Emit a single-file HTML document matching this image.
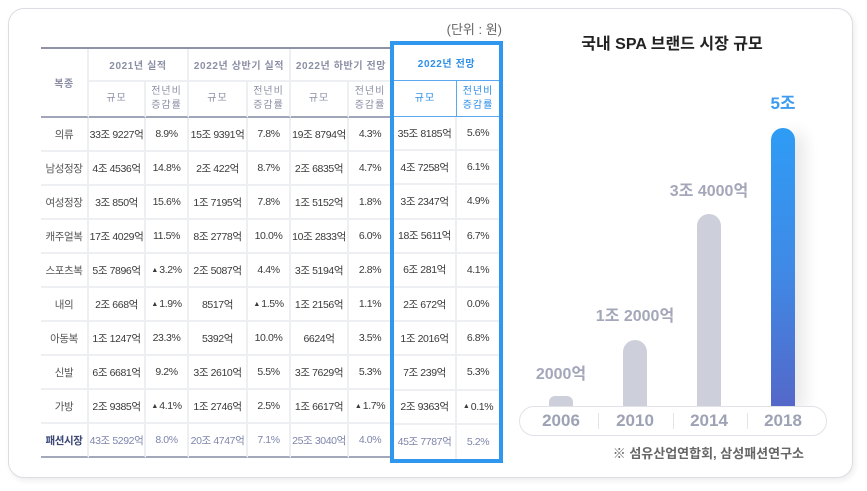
<!DOCTYPE html>
<html><head><meta charset="utf-8">
<style>
*{margin:0;padding:0;box-sizing:border-box}
body{width:867px;height:491px;background:#fff;position:relative;overflow:hidden;font-family:"Liberation Sans","Noto Sans CJK KR",sans-serif}
.card{position:absolute;left:8px;top:8px;width:845px;height:470px;border:1px solid #dcdde3;border-radius:16px;background:#fff;box-shadow:2px 3px 6px rgba(0,0,0,0.07)}
.abs{position:absolute}
.tbl{position:absolute;left:41px;top:47px;width:350px;border-top:2px solid #8e93a8;display:grid;grid-template-columns:48px 57px 43px 59px 43px 58px 42px;grid-template-rows:33px 36px repeat(10,34px)}
.c{display:flex;align-items:center;justify-content:center;text-align:center;border-right:2px solid #eeeff3;border-bottom:2px solid #eeeff3;font-size:10.5px;letter-spacing:-0.4px;color:#3a3a3a;white-space:nowrap}
.h1{font-size:10px;color:#8b90a5;letter-spacing:0.6px;font-weight:bold}
.h2{font-size:10px;color:#8b90a5;letter-spacing:1px;line-height:14px;border-bottom:2px solid #a0a5b8}
.nr{border-right:none}
.last{border-bottom:2px solid #a3a8bb}
.tot{color:#7d85ab}
.lab{color:#555}
.totlab{color:#3d4878;font-weight:bold}
.tri{font-size:7px;letter-spacing:0;margin-right:1px}
.hl{position:absolute;left:390px;top:41px;width:113px;height:422px;border:4px solid #2f97ee;display:grid;grid-template-columns:63px 42px;grid-template-rows:36px 36px repeat(10,34.2px);background:#fff}
.hb{color:#2e8fe6;border-bottom:1px solid #5aa9f0}
.hbr{border-right:1px solid #5aa9f0}
</style></head><body>
<div class="card"></div>
<div class="abs" style="left:440px;top:21px;width:62px;text-align:right;font-size:13px;color:#666;line-height:18px">(단위 : 원)</div>

<div class="tbl">
<div class="c h1" style="grid-row:1/span 2;border-bottom:2px solid #a0a5b8">복종</div>
<div class="c h1" style="grid-column:span 2">2021년 실적</div>
<div class="c h1" style="grid-column:span 2">2022년 상반기 실적</div>
<div class="c h1 nr" style="grid-column:span 2">2022년 하반기 전망</div>
<div class="c h2">규모</div><div class="c h2">전년비<br>증감률</div>
<div class="c h2">규모</div><div class="c h2">전년비<br>증감률</div>
<div class="c h2">규모</div><div class="c h2 nr">전년비<br>증감률</div>

<div class="c lab">의류</div><div class="c">33조 9227억</div><div class="c">8.9%</div><div class="c">15조 9391억</div><div class="c">7.8%</div><div class="c">19조 8794억</div><div class="c nr">4.3%</div>
<div class="c lab">남성정장</div><div class="c">4조 4536억</div><div class="c">14.8%</div><div class="c">2조 422억</div><div class="c">8.7%</div><div class="c">2조 6835억</div><div class="c nr">4.7%</div>
<div class="c lab">여성정장</div><div class="c">3조 850억</div><div class="c">15.6%</div><div class="c">1조 7195억</div><div class="c">7.8%</div><div class="c">1조 5152억</div><div class="c nr">1.8%</div>
<div class="c lab">캐주얼복</div><div class="c">17조 4029억</div><div class="c">11.5%</div><div class="c">8조 2778억</div><div class="c">10.0%</div><div class="c">10조 2833억</div><div class="c nr">6.0%</div>
<div class="c lab">스포츠복</div><div class="c">5조 7896억</div><div class="c"><span class="tri">▲</span>3.2%</div><div class="c">2조 5087억</div><div class="c">4.4%</div><div class="c">3조 5194억</div><div class="c nr">2.8%</div>
<div class="c lab">내의</div><div class="c">2조 668억</div><div class="c"><span class="tri">▲</span>1.9%</div><div class="c">8517억</div><div class="c"><span class="tri">▲</span>1.5%</div><div class="c">1조 2156억</div><div class="c nr">1.1%</div>
<div class="c lab">아동복</div><div class="c">1조 1247억</div><div class="c">23.3%</div><div class="c">5392억</div><div class="c">10.0%</div><div class="c">6624억</div><div class="c nr">3.5%</div>
<div class="c lab">신발</div><div class="c">6조 6681억</div><div class="c">9.2%</div><div class="c">3조 2610억</div><div class="c">5.5%</div><div class="c">3조 7629억</div><div class="c nr">5.3%</div>
<div class="c lab">가방</div><div class="c">2조 9385억</div><div class="c"><span class="tri">▲</span>4.1%</div><div class="c">1조 2746억</div><div class="c">2.5%</div><div class="c">1조 6617억</div><div class="c nr"><span class="tri">▲</span>1.7%</div>
<div class="c last totlab">패션시장</div><div class="c last tot">43조 5292억</div><div class="c last tot">8.0%</div><div class="c last tot">20조 4747억</div><div class="c last tot">7.1%</div><div class="c last tot">25조 3040억</div><div class="c last tot nr">4.0%</div>
</div>

<div class="hl">
<div class="c h1 hb nr" style="grid-column:span 2;color:#2e8fe6">2022년 전망</div>
<div class="c h2 hb hbr" style="color:#2e8fe6;border-bottom:1px solid #5aa9f0">규모</div><div class="c h2 hb nr" style="color:#2e8fe6;border-bottom:1px solid #5aa9f0">전년비<br>증감률</div>
<div class="c">35조 8185억</div><div class="c nr">5.6%</div>
<div class="c">4조 7258억</div><div class="c nr">6.1%</div>
<div class="c">3조 2347억</div><div class="c nr">4.9%</div>
<div class="c">18조 5611억</div><div class="c nr">6.7%</div>
<div class="c">6조 281억</div><div class="c nr">4.1%</div>
<div class="c">2조 672억</div><div class="c nr">0.0%</div>
<div class="c">1조 2016억</div><div class="c nr">6.8%</div>
<div class="c">7조 239억</div><div class="c nr">5.3%</div>
<div class="c">2조 9363억</div><div class="c nr"><span class="tri">▲</span>0.1%</div>
<div class="c tot" style="border-bottom:none">45조 7787억</div><div class="c tot nr" style="border-bottom:none">5.2%</div>
</div>

<!-- chart -->
<div class="abs" style="left:560px;top:34px;width:224px;text-align:center;font-size:16px;font-weight:bold;color:#222;line-height:22px">국내 SPA 브랜드 시장 규모</div>

<div class="abs" style="left:549px;top:396px;width:24px;height:10px;background:#cdd0da;border-radius:6px 6px 0 0"></div>
<div class="abs" style="left:623px;top:340px;width:24px;height:66px;background:#cdd0da;border-radius:12px 12px 0 0"></div>
<div class="abs" style="left:697px;top:214px;width:24px;height:192px;background:#cdd0da;border-radius:12px 12px 0 0"></div>
<div class="abs" style="left:771px;top:128px;width:24px;height:278px;background:linear-gradient(#2e9cf5,#3f8ae6 50%,#5468c9);border-radius:12px 12px 0 0;box-shadow:10px 4px 16px rgba(0,0,0,0.09)"></div>

<div class="abs" style="left:501px;top:364px;width:120px;text-align:center;font-size:16px;font-weight:bold;color:#a3a7b9;line-height:22px">2000억</div>
<div class="abs" style="left:575px;top:306px;width:120px;text-align:center;font-size:16px;font-weight:bold;color:#a3a7b9;line-height:22px">1조 2000억</div>
<div class="abs" style="left:649px;top:181px;width:120px;text-align:center;font-size:16px;font-weight:bold;color:#a3a7b9;line-height:22px">3조 4000억</div>
<div class="abs" style="left:723px;top:93px;width:120px;text-align:center;font-size:17px;font-weight:bold;color:#3d9bf0;line-height:22px">5조</div>

<div class="abs" style="left:519px;top:406px;width:308px;height:30px;border:1px solid #e1e2e8;border-radius:15px;background:#fff"></div>
<div class="abs" style="left:598px;top:413px;width:1px;height:16px;background:#e3e4ea"></div>
<div class="abs" style="left:673px;top:413px;width:1px;height:16px;background:#e3e4ea"></div>
<div class="abs" style="left:747px;top:413px;width:1px;height:16px;background:#e3e4ea"></div>
<div class="abs" style="left:521px;top:410px;width:80px;text-align:center;font-size:17px;font-weight:bold;color:#9da2b4;line-height:22px">2006</div>
<div class="abs" style="left:595px;top:410px;width:80px;text-align:center;font-size:17px;font-weight:bold;color:#9da2b4;line-height:22px">2010</div>
<div class="abs" style="left:669px;top:410px;width:80px;text-align:center;font-size:17px;font-weight:bold;color:#9da2b4;line-height:22px">2014</div>
<div class="abs" style="left:743px;top:410px;width:80px;text-align:center;font-size:17px;font-weight:bold;color:#9da2b4;line-height:22px">2018</div>

<div class="abs" style="left:594px;top:444px;width:210px;text-align:right;font-size:13px;font-weight:bold;color:#666;line-height:20px;white-space:nowrap">※ 섬유산업연합회, 삼성패션연구소</div>
</body></html>
